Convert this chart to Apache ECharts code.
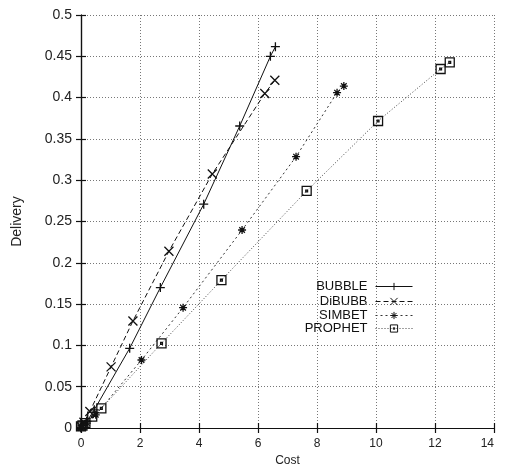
<!DOCTYPE html>
<html>
<head>
<meta charset="utf-8">
<script src="https://cdn.jsdelivr.net/npm/echarts@6/dist/echarts.min.js"></script>
<style>html,body{margin:0;padding:0;background:#fff}#c{width:506px;height:465px}</style>
</head>
<body>
<div id="c"></div>
<script>
var seriesNames = ['BUBBLE', 'DiBUBB', 'SIMBET', 'PROPHET'];
var bubbleX = [0, 0.05, 0.2, 0.45, 1.65, 2.69, 4.16, 5.38, 6.42, 6.59];
var bubbleY = [0, 0.003, 0.008, 0.022, 0.0965, 0.170, 0.271, 0.3656, 0.450, 0.4616];
var dibubbX = [0, 0.1, 0.3, 1.02, 1.76, 2.98, 4.45, 6.23, 6.57];
var dibubbY = [0.002, 0.007, 0.02, 0.074, 0.1295, 0.214, 0.3075, 0.405, 0.421];
var simbetX = [0, 0.05, 0.2, 0.5, 2.05, 3.46, 5.46, 7.29, 8.68, 8.91];
var simbetY = [0, 0.003, 0.006, 0.016, 0.0823, 0.1457, 0.2397, 0.3285, 0.406, 0.414];
var prophetX = [0, 0.05, 0.15, 0.38, 0.69, 2.73, 4.76, 7.65, 10.07, 12.19, 12.5];
var prophetY = [0.002, 0.003, 0.006, 0.0137, 0.0238, 0.1025, 0.179, 0.287, 0.3717, 0.4346, 0.4427];

function pairs(xs, ys) { return xs.map(function (x, i) { return [x, ys[i]]; }); }

var FONT = 'Liberation Sans, Arial, sans-serif';
var symbols = [
  'path://M0 5 H10 M5 0 V10',
  'path://M0 0 L10 10 M10 0 L0 10',
  'path://M0 5 H10 M5 0 V10 M1.5 1.5 L8.5 8.5 M8.5 1.5 L1.5 8.5',
  'path://M0 0 H10 V10 H0 Z M4 4 H6 V6 H4 Z'
];
var lineTypes = ['solid', [5, 3], [2, 3], [1, 2]];
var lineColors = ['#111', '#111', '#333', '#444'];
var symSizes = [9, 9, 8, 9];
var datas = [pairs(bubbleX, bubbleY), pairs(dibubbX, dibubbY), pairs(simbetX, simbetY), pairs(prophetX, prophetY)];

var series = seriesNames.map(function (n, i) {
  return {
    name: n, type: 'line', data: datas[i],
    symbol: symbols[i], symbolSize: symSizes[i], showAllSymbol: true,
    lineStyle: { color: lineColors[i], width: 1, type: lineTypes[i] },
    itemStyle: { color: 'none', borderColor: '#111', borderWidth: 1.3 },
    emphasis: { disabled: true }
  };
});

var legendTops = [280, 295, 309, 322];
var legends = seriesNames.map(function (n, i) {
  return {
    data: [n], orient: 'vertical', align: 'right', right: 93, top: legendTops[i],
    itemWidth: 37, itemHeight: 9, itemGap: 0, padding: 0,
    lineStyle: { width: 1 },
    itemStyle: { borderWidth: 1 },
    textStyle: { fontFamily: FONT, fontSize: 13, color: '#111', padding: [0, 3, 0, 0] },
    selectedMode: false
  };
});

var grid = { left: 81, right: 12, top: 15, bottom: 37, containLabel: false, outerBoundsMode: 'none' };
var splitLine = { show: true, lineStyle: { color: '#777', type: [1, 2], width: 1 } };
var axLine = { show: true, lineStyle: { color: '#111', width: 1.2 } };
var tick = { show: true, inside: true, length: 5, lineStyle: { color: '#111', width: 1.2 } };

var option = {
  animation: false,
  backgroundColor: '#fff',
  grid: grid,
  legend: legends,
  xAxis: [
    { type: 'value', min: 0, max: 14, interval: 2, position: 'bottom',
      name: 'Cost', nameLocation: 'middle', nameGap: 24,
      nameTextStyle: { fontFamily: FONT, fontSize: 12, color: '#222' },
      axisLine: axLine, axisTick: tick, splitLine: splitLine,
      axisLabel: { margin: 10, fontFamily: FONT, fontSize: 12, color: '#222', alignMaxLabel: 'right' } },
    { type: 'value', min: 0, max: 14, interval: 2, position: 'top',
      axisLine: axLine, axisTick: tick, splitLine: { show: false }, axisLabel: { show: false } }
  ],
  yAxis: [
    { type: 'value', min: 0, max: 0.5, interval: 0.05, position: 'left',
      name: 'Delivery', nameLocation: 'middle', nameGap: 57,
      nameTextStyle: { fontFamily: FONT, fontSize: 14, color: '#222' },
      axisLine: axLine, axisTick: tick, splitLine: splitLine,
      axisLabel: { margin: 9, fontFamily: FONT, fontSize: 14, color: '#222' } },
    { type: 'value', min: 0, max: 0.5, interval: 0.05, position: 'right',
      axisLine: axLine, axisTick: tick, splitLine: { show: false }, axisLabel: { show: false } }
  ],
  series: series
};
var chart = echarts.init(document.getElementById('c'), null, { renderer: 'canvas' });
chart.setOption(option);
</script>
</body>
</html>
